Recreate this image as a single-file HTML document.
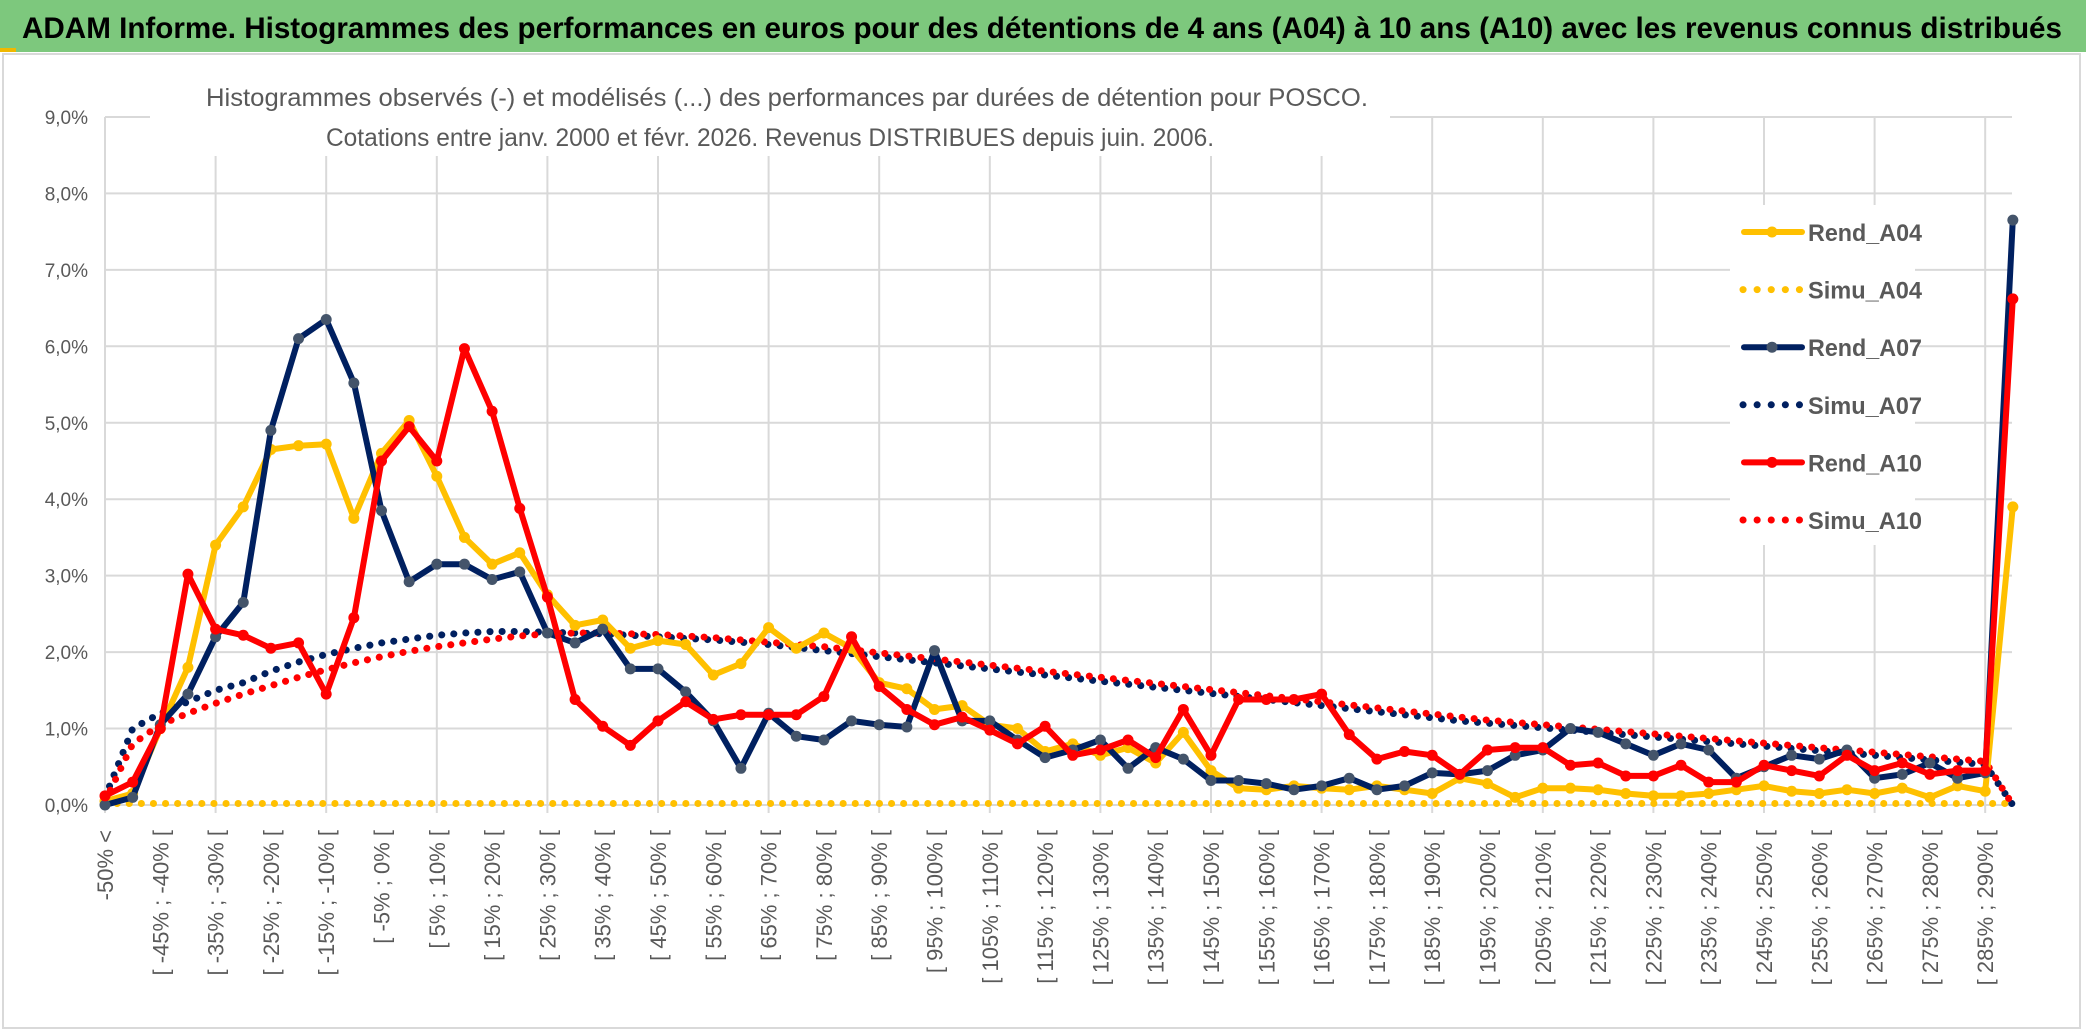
<!DOCTYPE html>
<html><head><meta charset="utf-8"><style>
html,body{margin:0;padding:0;background:#fff;}
svg{display:block;font-family:"Liberation Sans",sans-serif;}
</style></head><body>
<svg id="chart" width="2086" height="1031" viewBox="0 0 2086 1031" xmlns="http://www.w3.org/2000/svg">
<rect x="0" y="0" width="2086" height="1031" fill="#fff"/>
<rect x="0" y="0" width="2086" height="52" fill="#7DC87D"/>
<rect x="0" y="48" width="16" height="4" fill="#F0B800"/>
<text x="22" y="38" font-size="30" font-weight="bold" fill="#000" textLength="2040" lengthAdjust="spacingAndGlyphs">ADAM Informe. Histogrammes des performances en euros pour des détentions de 4 ans (A04) à 10 ans (A10) avec les revenus connus distribués</text>
<rect x="3" y="54" width="2077" height="974" fill="none" stroke="#d9d9d9" stroke-width="2"/>
<g id="grid"></g>
<g id="yaxis"></g>
<g id="xaxis"></g>
<rect x="150" y="76" width="1240" height="80" fill="#fff"/>
<text x="206" y="106" font-size="25" fill="#595959" textLength="1162" lengthAdjust="spacingAndGlyphs">Histogrammes observés (-) et modélisés (...) des performances par durées de détention pour POSCO.</text>
<text x="326" y="146" font-size="25" fill="#595959" textLength="888" lengthAdjust="spacingAndGlyphs">Cotations entre janv. 2000 et févr. 2026. Revenus DISTRIBUES depuis juin. 2006.</text>
<g id="series"></g>
<g id="legend"></g>
</svg>
<script>
const rendA04=[0.05,0.15,1.0,1.8,3.4,3.9,4.65,4.7,4.72,3.75,4.6,5.03,4.3,3.5,3.15,3.3,2.75,2.35,2.42,2.05,2.15,2.1,1.7,1.85,2.32,2.05,2.25,2.05,1.6,1.52,1.25,1.3,1.05,1.0,0.7,0.8,0.65,0.75,0.55,0.95,0.45,0.22,0.2,0.25,0.22,0.2,0.25,0.2,0.15,0.35,0.28,0.1,0.22,0.22,0.2,0.15,0.12,0.12,0.15,0.2,0.25,0.18,0.15,0.2,0.15,0.22,0.1,0.25,0.18,3.9];
const simuA04=[0.02,0.02,0.02,0.02,0.02,0.02,0.02,0.02,0.02,0.02,0.02,0.02,0.02,0.02,0.02,0.02,0.02,0.02,0.02,0.02,0.02,0.02,0.02,0.02,0.02,0.02,0.02,0.02,0.02,0.02,0.02,0.02,0.02,0.02,0.02,0.02,0.02,0.02,0.02,0.02,0.02,0.02,0.02,0.02,0.02,0.02,0.02,0.02,0.02,0.02,0.02,0.02,0.02,0.02,0.02,0.02,0.02,0.02,0.02,0.02,0.02,0.02,0.02,0.02,0.02,0.02,0.02,0.02,0.02,0.02];
const rendA07=[0.0,0.1,1.05,1.45,2.2,2.65,4.9,6.1,6.35,5.52,3.85,2.92,3.15,3.15,2.95,3.05,2.25,2.12,2.3,1.78,1.78,1.48,1.1,0.48,1.2,0.9,0.85,1.1,1.05,1.02,2.02,1.1,1.1,0.85,0.62,0.72,0.85,0.48,0.75,0.6,0.32,0.32,0.28,0.2,0.25,0.35,0.2,0.25,0.42,0.4,0.45,0.65,0.72,1.0,0.95,0.8,0.65,0.8,0.72,0.35,0.5,0.65,0.6,0.72,0.35,0.4,0.55,0.35,0.42,7.65];
const simuA07=[0.1,1.0,1.2,1.35,1.5,1.6,1.75,1.87,1.97,2.05,2.12,2.17,2.22,2.25,2.27,2.27,2.26,2.25,2.24,2.22,2.2,2.18,2.16,2.13,2.1,2.06,2.02,1.98,1.94,1.9,1.86,1.82,1.78,1.74,1.7,1.66,1.62,1.58,1.54,1.5,1.46,1.42,1.38,1.34,1.3,1.26,1.22,1.18,1.14,1.1,1.07,1.04,1.01,0.98,0.95,0.92,0.89,0.86,0.83,0.8,0.77,0.74,0.71,0.68,0.65,0.62,0.59,0.56,0.53,0.0];
const rendA10=[0.12,0.3,1.0,3.02,2.3,2.22,2.05,2.12,1.45,2.45,4.5,4.95,4.5,5.97,5.15,3.88,2.72,1.38,1.03,0.78,1.1,1.35,1.12,1.18,1.18,1.18,1.42,2.2,1.55,1.25,1.05,1.15,0.98,0.8,1.03,0.65,0.72,0.85,0.62,1.25,0.65,1.38,1.38,1.38,1.45,0.92,0.6,0.7,0.65,0.4,0.72,0.75,0.75,0.52,0.55,0.38,0.38,0.52,0.3,0.3,0.52,0.45,0.38,0.65,0.45,0.55,0.4,0.45,0.45,6.62];
const simuA10=[0.05,0.8,1.05,1.2,1.33,1.45,1.56,1.67,1.77,1.86,1.94,2.01,2.07,2.12,2.17,2.21,2.24,2.25,2.25,2.24,2.23,2.21,2.19,2.16,2.13,2.1,2.07,2.03,1.99,1.95,1.91,1.87,1.83,1.79,1.75,1.71,1.67,1.63,1.59,1.55,1.51,1.47,1.43,1.39,1.35,1.31,1.27,1.23,1.19,1.15,1.11,1.08,1.05,1.02,0.99,0.96,0.93,0.9,0.87,0.84,0.81,0.78,0.75,0.72,0.69,0.66,0.63,0.6,0.57,0.0];
const yTicks=[0,1,2,3,4,5,6,7,8,9];
const yTickLabels=["0,0%","1,0%","2,0%","3,0%","4,0%","5,0%","6,0%","7,0%","8,0%","9,0%"];
const categories=["-50% <"];
for(let k=1;k<69;k++){categories.push("[ "+(-55+5*k)+"% ; "+(-50+5*k)+"% [");}
categories.push("290% >");

const NS="http://www.w3.org/2000/svg";
const X0=105,STEP=27.65,Y0=805,YU=76.45,XR=2012;
function xs(i){return X0+i*STEP;}
function ys(v){return Y0-v*YU;}
function mk(tag,attrs,parent){const e=document.createElementNS(NS,tag);for(const k in attrs)e.setAttribute(k,attrs[k]);parent.appendChild(e);return e;}
const grid=document.getElementById('grid'),yaxis=document.getElementById('yaxis'),xaxis=document.getElementById('xaxis'),series=document.getElementById('series'),legend=document.getElementById('legend');
yTicks.forEach((t,i)=>{
  const l=mk('line',{x1:X0,x2:XR,y1:ys(t),y2:ys(t),stroke:'#d9d9d9','stroke-width':2},grid);
  
  
  const tx=mk('text',{x:88,y:ys(t)+7,'text-anchor':'end','font-size':19,fill:'#595959'},yaxis);
  tx.textContent=yTickLabels[i];
  
  
});
for(let i=0;i<categories.length;i+=4){
  const l=mk('line',{x1:xs(i),x2:xs(i),y1:ys(9),y2:Y0+8,stroke:'#d9d9d9','stroke-width':2},grid);
  
  
}
categories.forEach((c,i)=>{
  if(i%2!==0)return;
  const x=xs(i)+8,y=830;
  const tx=mk('text',{x:x,y:y,transform:'rotate(-90 '+x+' '+y+')','text-anchor':'end','font-size':22,fill:'#595959'},xaxis);
  tx.textContent=c;
  
  
});
function pts(arr){return arr.map((v,i)=>xs(i).toFixed(1)+','+ys(v).toFixed(1)).join(' ');}
function dotted(arr,color,name){
  const p=mk('polyline',{points:pts(arr),fill:'none',stroke:color,'stroke-width':7,'stroke-linecap':'round','stroke-dasharray':'0.1 12'},series);
  
  
}
function solid(arr,color,mcolor,name){
  const g=mk('g',{},series);
  
  
  mk('polyline',{points:pts(arr),fill:'none',stroke:color,'stroke-width':6,'stroke-linejoin':'round'},g);
  arr.forEach((v,i)=>{
    const c=mk('circle',{cx:xs(i),cy:ys(v),r:5.5,fill:mcolor},g);
    
    
  });
}
dotted(simuA04,'#FFC000','simu-a04-line');
dotted(simuA07,'#002060','simu-a07-line');
dotted(simuA10,'#FF0000','simu-a10-line');
solid(rendA04,'#FFC000','#FFC000','rend-a04-line');
solid(rendA07,'#002060','#44546A','rend-a07-line');
solid(rendA10,'#FF0000','#FF0000','rend-a10-line');
const legItems=[["Rend_A04","#FFC000","#FFC000",false],["Simu_A04","#FFC000","",true],["Rend_A07","#002060","#44546A",false],["Simu_A07","#002060","",true],["Rend_A10","#FF0000","#FF0000",false],["Simu_A10","#FF0000","",true]];
mk('rect',{x:1730,y:205,width:185,height:340,fill:'#fff'},legend);
legItems.forEach((it,i)=>{
  const y=232+i*57.6;
  const g=mk('g',{},legend);
  
  
  if(it[3]){
    mk('line',{x1:1743,x2:1800,y1:y,y2:y,stroke:it[1],'stroke-width':7,'stroke-linecap':'round','stroke-dasharray':'0.1 14'},g);
  }else{
    mk('line',{x1:1744,x2:1802,y1:y,y2:y,stroke:it[1],'stroke-width':6,'stroke-linecap':'round'},g);
    mk('circle',{cx:1772,cy:y,r:5.5,fill:it[2]},g);
  }
  const t=mk('text',{x:1808,y:y+9,'font-size':24,'font-weight':'bold',fill:'#595959',textLength:114,lengthAdjust:'spacingAndGlyphs'},g);
  t.textContent=it[0];
});
</script>
</body></html>
